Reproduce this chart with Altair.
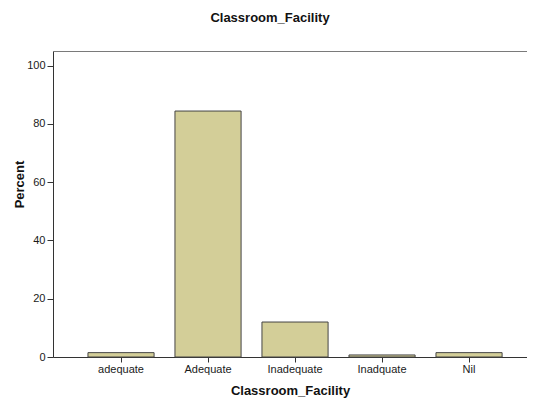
import altair as alt
import pandas as pd

categories = ["adequate", "Adequate", "Inadequate", "Inadquate", "Nil"]
percents = [1.5, 84.4, 12.0, 0.7, 1.5]

df = pd.DataFrame({"Classroom_Facility": categories, "Percent": percents})

W, H = 474, 306

bars = alt.Chart(df).mark_bar(
    fill="#D3CE98", stroke="#454545", strokeWidth=1
).encode(
    x=alt.X(
        "Classroom_Facility:N",
        sort=categories,
        scale=alt.Scale(paddingInner=0.24, paddingOuter=0.344, align=0.584),
        axis=alt.Axis(
            title="Classroom_Facility", labelAngle=0, labelFont="Liberation Sans",
            labelFontSize=11, labelColor="#1a1a1a", labelPadding=1,
            tickSize=5, tickColor="#333333", domainColor="#333333",
            titleFont="Liberation Sans", titleFontSize=13, titleFontWeight="bold",
            titleColor="#111111", titlePadding=10,
        ),
    ),
    y=alt.Y(
        "Percent:Q",
        scale=alt.Scale(domain=[0, 105], nice=False),
        axis=alt.Axis(
            title="Percent", values=[0, 20, 40, 60, 80, 100], grid=False,
            labelFont="Liberation Sans", labelFontSize=11, labelColor="#1a1a1a",
            labelPadding=2, tickSize=6, tickColor="#333333", domainColor="#333333",
            titleFont="Liberation Sans", titleFontSize=13, titleFontWeight="bold",
            titleColor="#111111", titleX=-27, titleY=133,
        ),
    ),
)

top_border = alt.Chart(df).mark_rule(color="#7a7a7a", strokeWidth=1).encode(
    x=alt.value(0), x2=alt.value(W), y=alt.value(0.5)
)

chart = alt.layer(bars, top_border).properties(
    width=W, height=H,
    title=alt.TitleParams(
        "Classroom_Facility", font="Liberation Sans", fontSize=13,
        fontWeight="bold", color="#111111", anchor="middle", dx=-20, offset=26,
    ),
    padding={"left": 45, "top": 43, "right": 0, "bottom": 42},
    autosize=alt.AutoSizeParams(type="none"),
).configure_view(
    fill="#F0F0F0", stroke=None
).configure(background="white")

chart.save("out.html", embed_options={"renderer": "svg", "actions": False})
